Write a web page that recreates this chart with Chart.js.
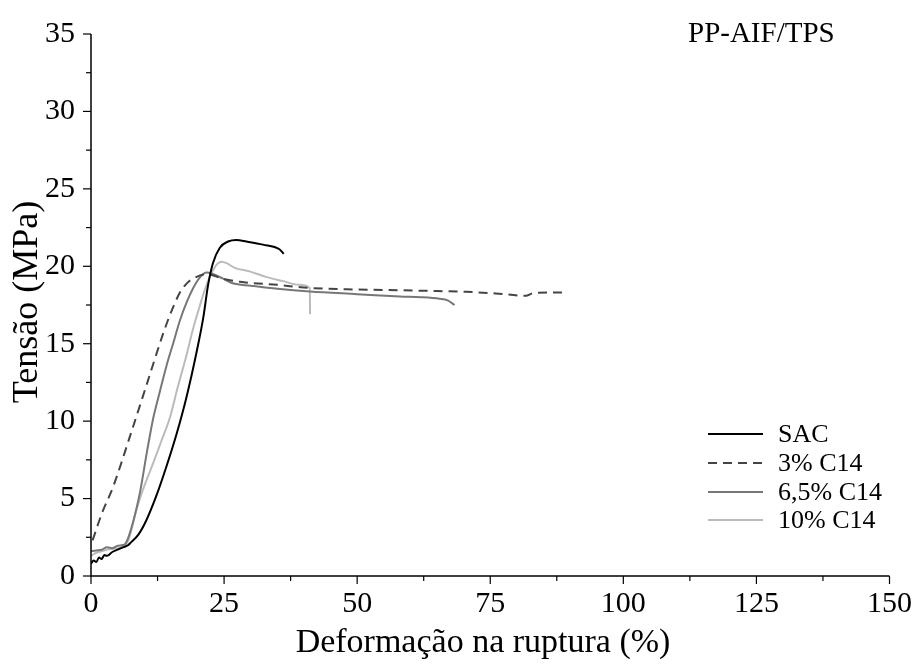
<!DOCTYPE html>
<html>
<head>
<meta charset="utf-8">
<script src="https://cdn.jsdelivr.net/npm/chart.js@4.4.1/dist/chart.umd.min.js"></script>
<style>
  html, body { margin: 0; padding: 0; background: #fff; }
  #wrap { width: 922px; height: 668px; }
</style>
</head>
<body>
<div id="wrap"><canvas id="chart" width="922" height="668"></canvas></div>
<script>
// Series data: strain (%) and stress (MPa)
const seriesLabels = ['SAC', '3% C14', '6,5% C14', '10% C14'];

const sacX = [0, 0.5, 1, 1.5, 2, 2.5, 3, 4, 5, 6, 7, 7.3, 8.9, 10.4, 12.3, 14.2, 16.1, 17.9, 19.8, 21.1, 22, 22.9, 24.2, 25.75, 27.3, 29.2, 32.3, 35.4, 36.2];
const sacY = [0.8, 1.0, 0.9, 1.2, 1.1, 1.35, 1.3, 1.55, 1.7, 1.85, 2.0, 2.1, 2.67, 3.6, 5.2, 7.1, 9.2, 11.5, 14.4, 16.7, 18.8, 20.2, 21.2, 21.6, 21.7, 21.6, 21.4, 21.1, 20.8];

const c3X = [0.3, 2, 4.2, 7.3, 10.4, 13.6, 15, 16.7, 18, 19.2, 21.7, 24.8, 28, 35, 41.1, 50, 58, 65, 70.5, 76, 81.7, 82.9, 86, 89.5];
const c3Y = [2.3, 4.0, 5.8, 9.0, 12.3, 15.7, 17.0, 18.3, 18.9, 19.2, 19.5, 19.2, 19.0, 18.8, 18.6, 18.5, 18.45, 18.4, 18.35, 18.25, 18.1, 18.25, 18.3, 18.3];

const c65X = [0, 1, 2, 3, 4, 5, 6, 6.5, 7.5, 9.2, 10.5, 11.7, 13, 14.2, 15.5, 16.7, 18, 19.2, 20.5, 21.7, 22.9, 24.8, 26.6, 30, 35, 41.1, 50, 58, 62, 65.5, 67, 68.3];
const c65Y = [1.6, 1.65, 1.7, 1.85, 1.8, 1.95, 2.0, 2.1, 3.0, 5.4, 8.0, 10.2, 12.0, 13.6, 15.1, 16.5, 17.7, 18.6, 19.3, 19.6, 19.5, 19.2, 18.9, 18.75, 18.55, 18.37, 18.2, 18.05, 18.0, 17.9, 17.8, 17.5];

const c10X = [0, 1, 2, 3, 4, 5, 6, 7, 8.6, 10, 11.7, 13.2, 14.8, 16.3, 17.9, 19.2, 20.4, 21.4, 22.3, 23.6, 24.5, 25.5, 27, 29.8, 33, 36.1, 39, 41.1, 41.15];
const c10Y = [1.3, 1.5, 1.6, 1.7, 1.75, 1.8, 1.9, 2.3, 4.35, 5.8, 7.3, 8.7, 10.2, 12.2, 14.2, 16.0, 17.4, 18.5, 19.3, 20.1, 20.3, 20.2, 19.9, 19.67, 19.3, 19.04, 18.8, 18.6, 16.9];

const xTicks = [0, 25, 50, 75, 100, 125, 150];
const yTicks = [0, 5, 10, 15, 20, 25, 30, 35];

const FONT = "'Liberation Serif', 'Times New Roman', serif";

function toPoints(xs, ys) {
  return xs.map((x, i) => ({ x: x, y: ys[i] }));
}

function makeSet(label, xs, ys, color, dash) {
  return {
    label: label,
    data: toPoints(xs, ys),
    borderColor: color,
    backgroundColor: color,
    borderWidth: 2,
    borderDash: dash || [],
    pointRadius: 0,
    showLine: true,
    fill: false,
    cubicInterpolationMode: 'monotone'
  };
}

// Axis lines, tick marks (major + minor), titles and the legend box
const decorPlugin = {
  id: 'decor',
  afterDraw(chart) {
    const ctx = chart.ctx;
    const area = chart.chartArea;
    const xs = chart.scales.x;
    const ys = chart.scales.y;
    ctx.save();
    ctx.strokeStyle = '#000';
    ctx.lineWidth = 1.5;

    // axes
    ctx.beginPath();
    ctx.moveTo(area.left, area.top);
    ctx.lineTo(area.left, area.bottom);
    ctx.lineTo(area.right, area.bottom);
    ctx.stroke();

    // ticks
    ctx.lineWidth = 1.2;
    xs.ticks.forEach(t => {
      const px = xs.getPixelForValue(t.value);
      const len = xTicks.includes(t.value) ? 8 : 5;
      ctx.beginPath();
      ctx.moveTo(px, area.bottom);
      ctx.lineTo(px, area.bottom + len);
      ctx.stroke();
    });
    ys.ticks.forEach(t => {
      const py = ys.getPixelForValue(t.value);
      const len = yTicks.includes(t.value) ? 8 : 5;
      ctx.beginPath();
      ctx.moveTo(area.left, py);
      ctx.lineTo(area.left - len, py);
      ctx.stroke();
    });

    ctx.fillStyle = '#000';
    // x title
    ctx.font = '34px ' + FONT;
    ctx.textAlign = 'center';
    ctx.textBaseline = 'alphabetic';
    ctx.fillText('Deformação na ruptura (%)', 483, 652);

    // y title
    ctx.save();
    ctx.translate(37, 302);
    ctx.rotate(-Math.PI / 2);
    ctx.font = '36px ' + FONT;
    ctx.fillText('Tensão (MPa)', 0, 0);
    ctx.restore();

    // figure label
    ctx.font = '29px ' + FONT;
    ctx.textAlign = 'left';
    ctx.fillText('PP-AIF/TPS', 688, 42);

    // legend
    const rows = [434, 463, 492, 520];
    ctx.font = '26px ' + FONT;
    ctx.textBaseline = 'middle';
    chart.data.datasets.forEach((ds, i) => {
      const y = rows[i];
      ctx.strokeStyle = ds.borderColor;
      ctx.lineWidth = 2;
      ctx.setLineDash(ds.borderDash);
      ctx.beginPath();
      ctx.moveTo(708, y);
      ctx.lineTo(763, y);
      ctx.stroke();
      ctx.setLineDash([]);
      ctx.fillStyle = '#000';
      ctx.fillText(ds.label, 778, y + 1);
    });
    ctx.restore();
  }
};

new Chart(document.getElementById('chart'), {
  type: 'scatter',
  data: {
    datasets: [
      makeSet(seriesLabels[0], sacX, sacY, '#000000'),
      makeSet(seriesLabels[1], c3X, c3Y, '#444444', [9, 6]),
      makeSet(seriesLabels[2], c65X, c65Y, '#777777'),
      makeSet(seriesLabels[3], c10X, c10Y, '#bbbbbb')
    ]
  },
  options: {
    responsive: false,
    animation: false,
    layout: { padding: { left: 0, right: 31, top: 20, bottom: 0 } },
    plugins: {
      legend: { display: false },
      tooltip: { enabled: false }
    },
    scales: {
      x: {
        type: 'linear',
        min: 0,
        max: 150,
        grid: { display: false, drawTicks: false },
        border: { display: false },
        ticks: {
          stepSize: 12.5,
          autoSkip: false,
          maxRotation: 0,
          padding: 10,
          color: '#000',
          font: { family: FONT, size: 30 },
          callback: v => xTicks.includes(v) ? v : ''
        },
        afterFit: s => { s.height = 92; }
      },
      y: {
        type: 'linear',
        min: 0,
        max: 35,
        grid: { display: false, drawTicks: false },
        border: { display: false },
        ticks: {
          stepSize: 2.5,
          autoSkip: false,
          padding: 16,
          color: '#000',
          font: { family: FONT, size: 30 },
          callback: v => yTicks.includes(v) ? v : ''
        },
        afterFit: s => { s.width = 91; }
      }
    }
  },
  plugins: [decorPlugin]
});
</script>
</body>
</html>
